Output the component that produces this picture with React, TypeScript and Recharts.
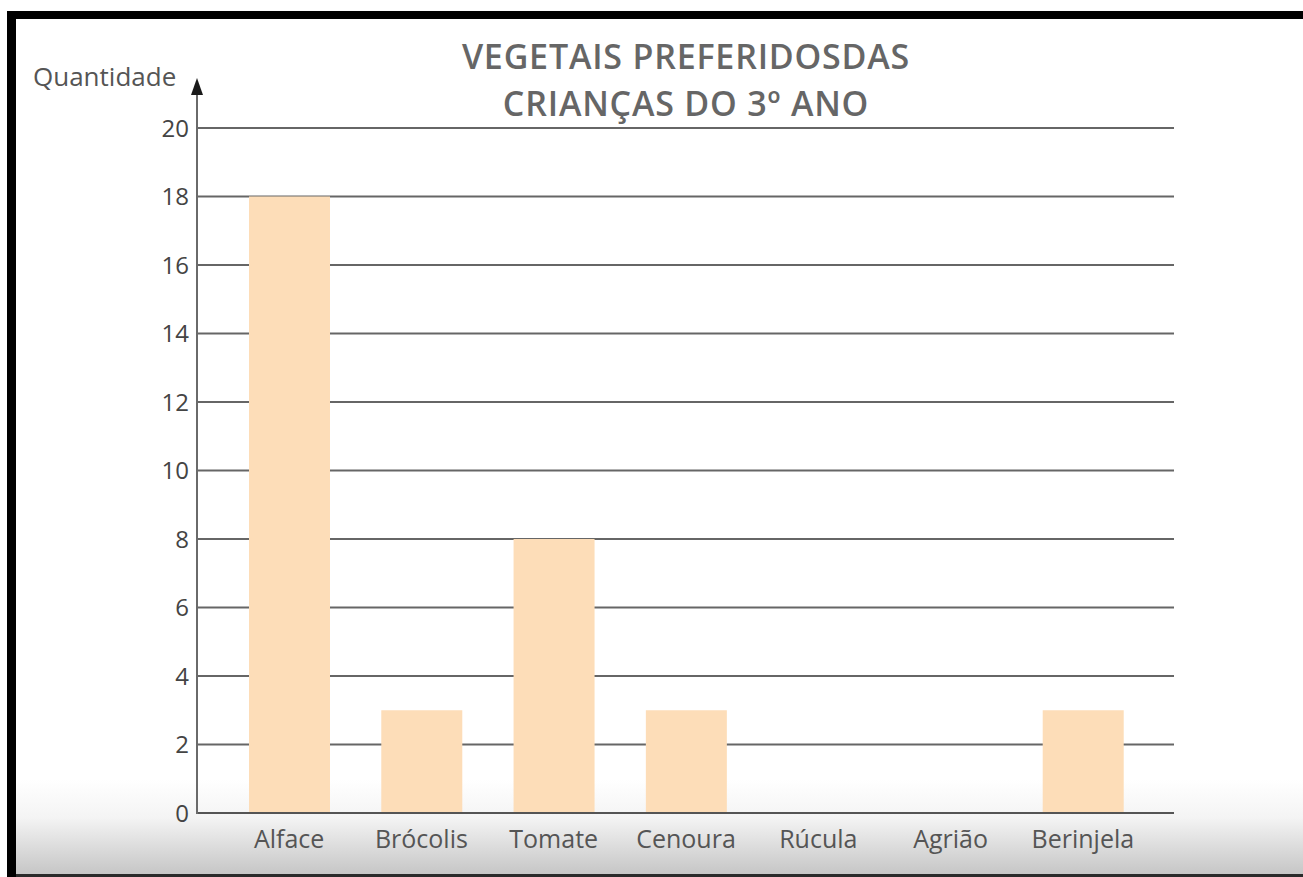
import { Bar, BarChart, CartesianGrid, XAxis, YAxis } from "recharts";

const categories = ["Alface", "Brócolis", "Tomate", "Cenoura", "Rúcula", "Agrião", "Berinjela"];
const quantities = [18, 3, 8, 3, 0, 0, 3];
const yTicks = [0, 2, 4, 6, 8, 10, 12, 14, 16, 18, 20];
const titleLines = ["VEGETAIS PREFERIDOSDAS", "CRIANÇAS DO 3º ANO"];
const yAxisTitle = "Quantidade";

const data = categories.map((vegetal, i) => ({ vegetal, quantidade: quantities[i] }));

const W = 1303;
const H = 877;
const font = "'Open Sans', 'Noto Sans', sans-serif";

export default function App() {
  return (
    <div style={{ position: "absolute", left: 0, top: 0, width: W, height: H, background: "#fff", overflow: "hidden" }}>
      {/* frame: black bands + grey fade at the bottom */}
      <div style={{ position: "absolute", left: 7, top: 11, width: W - 7, height: 8, background: "#000" }} />
      <div style={{ position: "absolute", left: 7, top: 11, width: 9, height: H - 11, background: "#000" }} />
      <div
        style={{
          position: "absolute",
          left: 16,
          top: 780,
          width: W - 16,
          height: 94,
          background: "linear-gradient(#ffffff, #f4f4f4 40%, #c6c6c6)",
        }}
      />
      <div style={{ position: "absolute", left: 16, top: 874, width: W - 16, height: 3, background: "#2a2a2a" }} />

      <div style={{ position: "absolute", left: 0, top: 0 }}>
        <BarChart width={W} height={H} data={data} margin={{ top: 128, right: 129, bottom: 0, left: 0 }}>
          <CartesianGrid vertical={false} stroke="#666" strokeWidth={2} />
          <XAxis
            dataKey="vegetal"
            height={64}
            padding={{ left: 26, right: 25 }}
            tickLine={false}
            tickMargin={11}
            axisLine={{ stroke: "#555", strokeWidth: 2 }}
            tick={{ fill: "#555", fontSize: 25, fontFamily: font }}
            interval={0}
          />
          <YAxis
            width={197}
            domain={[0, 20]}
            ticks={yTicks}
            interval={0}
            tickLine={false}
            axisLine={false}
            tick={{ fill: "#444", fontSize: 24, fontFamily: font }}
          />
          <Bar dataKey="quantidade" fill="#FDDDB8" barSize={81} isAnimationActive={false} />
        </BarChart>
      </div>

      <svg width={W} height={H} style={{ position: "absolute", left: 0, top: 0, pointerEvents: "none" }}>
        <line x1={197} y1={814} x2={197} y2={92} stroke="#6a6a6a" strokeWidth={2} />
        <polygon points="197,78 191,95 203,95" fill="#1a1a1a" />
        <text x={33} y={86} fontFamily={font} fontSize={26} fill="#555">
          {yAxisTitle}
        </text>
        {titleLines.map((t, i) => (
          <text
            key={t}
            x={686}
            y={69 + i * 47}
            textAnchor="middle"
            fontFamily={font}
            fontWeight={600}
            fontSize={34}
            letterSpacing={0.8}
            fill="#666"
          >
            {t}
          </text>
        ))}
      </svg>
    </div>
  );
}
